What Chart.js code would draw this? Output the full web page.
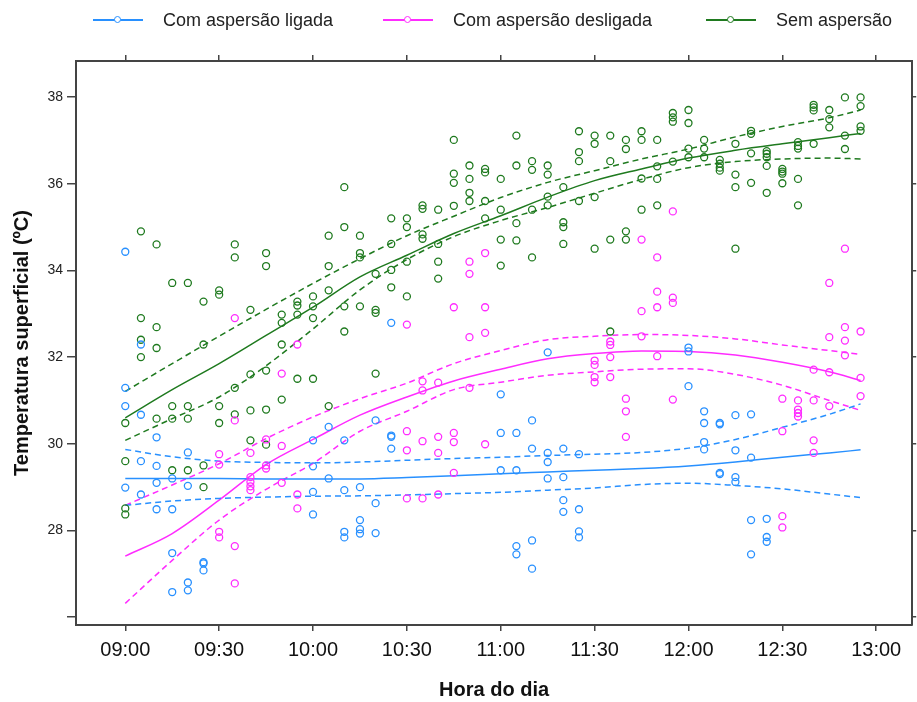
<!DOCTYPE html>
<html>
<head>
<meta charset="utf-8">
<script src="https://cdn.jsdelivr.net/npm/chart.js@4.4.1/dist/chart.umd.min.js"></script>
<style>
  html, body { margin: 0; padding: 0; background: #fff; }
  #wrap { position: relative; width: 917px; height: 702px; }
  #legend {
    position: absolute; left: 0; top: 8px; height: 24px; width: 917px;
    font-family: "Liberation Sans", Arial, sans-serif; font-size: 18px; color: #222;
  }
  .item { position: absolute; top: 0; display: flex; align-items: center; height: 24px; }
  .swatch { position: relative; width: 50px; height: 24px; margin-right: 20px; }
  .swatch .ln { position: absolute; left: 0; right: 0; top: 11px; height: 1.5px; }
  .swatch .pt { position: absolute; left: 21px; top: 8px; width: 5px; height: 5px; border-radius: 50%; border: 1.3px solid; background: #fff; }
</style>
</head>
<body>
<div id="wrap">
  <canvas id="chart" width="917" height="702"></canvas>
  <div id="legend"></div>
</div>
<script>
// colours (lattice superpose defaults)
const colLigada = '#2890ff';
const colDesligada = '#ff2cff';
const colSem = '#1f7a1f';

const seriesNames = ['Com aspersão ligada', 'Com aspersão desligada', 'Sem aspersão'];

// axis ticks
const xTicks = ['09:00', '09:30', '10:00', '10:30', '11:00', '11:30', '12:00', '12:30', '13:00'];
const yTicks = [26, 28, 30, 32, 34, 36, 38];

// observations: [hora, temperaturas]
const ligadaObs = [
  ['09:00', [34.43, 31.29, 30.87, 28.99]],
  ['09:05', [32.29, 30.67, 29.60, 28.83]],
  ['09:10', [30.15, 29.49, 29.10, 28.49]],
  ['09:15', [29.20, 28.49, 27.48, 26.58]],
  ['09:20', [29.80, 29.03, 26.80, 26.62]],
  ['09:25', [27.27, 27.24, 27.08]],
  ['10:00', [30.08, 29.48, 28.89, 28.37]],
  ['10:05', [30.39, 29.20]],
  ['10:10', [30.08, 28.93, 27.97, 27.84]],
  ['10:15', [29.00, 28.24, 28.03, 27.93]],
  ['10:20', [30.54, 28.63, 27.94]],
  ['10:25', [32.79, 30.19, 30.16, 29.89]],
  ['11:00', [31.14, 30.25, 29.39]],
  ['11:05', [30.25, 29.39, 27.64, 27.45]],
  ['11:10', [30.54, 29.89, 27.77, 27.12]],
  ['11:15', [32.11, 29.79, 29.58, 29.20]],
  ['11:20', [29.89, 29.23, 28.70, 28.43]],
  ['11:25', [29.76, 28.49, 27.98, 27.84]],
  ['12:00', [32.22, 32.13, 31.33]],
  ['12:05', [30.75, 30.48, 30.04, 29.87]],
  ['12:10', [30.48, 30.45, 29.33, 29.30]],
  ['12:15', [30.66, 29.85, 29.23, 29.12]],
  ['12:20', [30.68, 29.68, 28.24, 27.45]],
  ['12:25', [28.27, 27.85, 27.74]]
];

const desligadaObs = [
  ['09:30', [29.76, 29.52, 27.97, 27.84]],
  ['09:35', [32.90, 30.54, 27.64, 26.78]],
  ['09:40', [29.79, 29.23, 29.12, 29.02, 28.93]],
  ['09:45', [30.10, 29.50, 29.43]],
  ['09:50', [31.62, 29.95, 29.10]],
  ['09:55', [32.29, 28.83, 28.51]],
  ['10:30', [32.75, 30.29, 29.85, 28.74]],
  ['10:35', [31.44, 31.23, 30.06, 28.74]],
  ['10:40', [31.41, 30.16, 29.79, 28.83]],
  ['10:45', [33.15, 30.25, 30.04, 29.33]],
  ['10:50', [34.20, 33.92, 32.46, 31.29]],
  ['10:55', [34.40, 33.15, 32.56, 29.99]],
  ['11:30', [31.92, 31.82, 31.54, 31.42]],
  ['11:35', [32.36, 32.28, 32.00, 31.54]],
  ['11:40', [31.04, 30.75, 30.16]],
  ['11:45', [34.71, 33.06, 32.48]],
  ['11:50', [34.30, 33.51, 33.15, 32.02]],
  ['11:55', [35.36, 33.37, 33.25, 31.02]],
  ['12:30', [31.04, 30.29, 28.33, 28.07]],
  ['12:35', [31.00, 30.79, 30.71, 30.63]],
  ['12:40', [31.71, 31.00, 30.08, 29.79]],
  ['12:45', [33.71, 32.46, 31.65, 30.87]],
  ['12:50', [34.50, 32.69, 32.38, 32.04]],
  ['12:55', [32.59, 31.52, 31.10]]
];

const semObs = [
  ['09:00', [30.48, 29.60, 28.51, 28.37]],
  ['09:05', [34.90, 32.90, 32.40, 32.00]],
  ['09:10', [34.60, 32.69, 32.21, 30.58]],
  ['09:15', [33.71, 30.87, 30.58, 29.39]],
  ['09:20', [33.71, 30.87, 30.58, 29.39]],
  ['09:25', [33.28, 32.29, 29.50, 29.00]],
  ['09:30', [33.54, 33.44, 30.87, 30.48]],
  ['09:35', [34.60, 34.30, 31.29, 30.68]],
  ['09:40', [33.09, 31.60, 30.77, 30.08]],
  ['09:45', [34.40, 34.10, 31.69, 30.79, 29.98]],
  ['09:50', [32.98, 32.79, 32.29, 31.02]],
  ['09:55', [33.28, 33.19, 32.98, 31.50]],
  ['10:00', [33.40, 33.17, 32.90, 31.50]],
  ['10:05', [34.80, 34.10, 33.54, 30.87]],
  ['10:10', [35.92, 35.00, 33.17, 32.59]],
  ['10:15', [34.80, 34.40, 34.30, 33.17]],
  ['10:20', [33.92, 33.09, 33.02, 31.62]],
  ['10:25', [35.20, 34.61, 34.01, 33.61]],
  ['10:30', [35.20, 35.00, 34.20, 33.40]],
  ['10:35', [35.50, 35.42, 34.83, 34.73]],
  ['10:40', [35.40, 34.61, 34.20, 33.81]],
  ['10:45', [37.01, 36.23, 36.02, 35.49]],
  ['10:50', [36.42, 36.11, 35.79, 35.60]],
  ['10:55', [36.34, 36.26, 35.60, 35.20]],
  ['11:00', [36.11, 35.40, 34.71, 34.11]],
  ['11:05', [37.11, 36.42, 35.09, 34.69]],
  ['11:10', [36.52, 36.32, 35.40, 34.30]],
  ['11:15', [36.42, 36.21, 35.70, 35.50]],
  ['11:20', [35.92, 35.11, 35.00, 34.61]],
  ['11:25', [37.21, 36.73, 36.52, 35.60]],
  ['11:30', [37.11, 36.92, 35.69, 34.50]],
  ['11:35', [37.11, 36.52, 34.71, 32.59]],
  ['11:40', [37.01, 36.80, 34.90, 34.71]],
  ['11:45', [37.21, 37.01, 36.12, 35.40]],
  ['11:50', [37.01, 36.40, 36.11, 35.50]],
  ['11:55', [37.63, 37.53, 37.43, 36.51]],
  ['12:00', [37.70, 37.40, 36.81, 36.61]],
  ['12:05', [37.01, 36.81, 36.61]],
  ['12:10', [36.55, 36.46, 36.37, 36.30]],
  ['12:15', [36.92, 36.21, 35.92, 34.50]],
  ['12:20', [37.22, 37.15, 36.70, 36.02]],
  ['12:25', [36.75, 36.69, 36.61, 36.41, 35.79]],
  ['12:30', [36.34, 36.28, 36.23, 36.01]],
  ['12:35', [36.96, 36.87, 36.81, 36.11, 35.50]],
  ['12:40', [37.82, 37.76, 37.69, 36.92]],
  ['12:45', [37.70, 37.49, 37.30]],
  ['12:50', [37.99, 37.11, 36.80]],
  ['12:55', [37.99, 37.79, 37.32, 37.22]]
];

// smoothed fits (minutes after 09:00) and their confidence bands
const fitMinutes = [0, 15, 30, 45, 60, 75, 90, 105, 120, 135, 150, 165, 180, 195, 210, 225, 235];
const ligadaFit   = [29.20, 29.20, 29.20, 29.19, 29.19, 29.19, 29.22, 29.26, 29.31, 29.35, 29.39, 29.43, 29.49, 29.58, 29.69, 29.79, 29.86];
const ligadaUpper = [29.87, 29.70, 29.60, 29.57, 29.56, 29.58, 29.62, 29.66, 29.69, 29.73, 29.76, 29.80, 29.90, 30.10, 30.38, 30.68, 30.92];
const ligadaLower = [28.58, 28.68, 28.74, 28.77, 28.79, 28.80, 28.82, 28.85, 28.88, 28.93, 28.98, 29.06, 29.09, 29.04, 28.96, 28.84, 28.76];
const desligadaFit   = [27.41, 27.93, 28.70, 29.52, 30.10, 30.66, 31.08, 31.45, 31.72, 31.96, 32.08, 32.14, 32.13, 32.05, 31.88, 31.66, 31.46];
const desligadaUpper = [28.58, 29.05, 29.54, 30.12, 30.62, 31.04, 31.40, 31.85, 32.15, 32.40, 32.48, 32.52, 32.50, 32.42, 32.28, 32.15, 32.06];
const desligadaLower = [26.32, 27.31, 28.24, 28.95, 29.55, 30.29, 30.75, 31.25, 31.42, 31.58, 31.66, 31.72, 31.73, 31.60, 31.35, 31.00, 30.77];
const semFit   = [30.60, 31.25, 31.85, 32.50, 33.15, 33.85, 34.35, 34.85, 35.26, 35.69, 36.07, 36.34, 36.59, 36.77, 36.92, 37.06, 37.16];
const semUpper = [31.21, 31.85, 32.48, 33.10, 33.70, 34.27, 34.80, 35.25, 35.68, 36.03, 36.30, 36.57, 36.80, 37.08, 37.32, 37.52, 37.70];
const semLower = [30.08, 30.58, 31.08, 31.80, 32.65, 33.55, 34.25, 34.78, 35.15, 35.45, 35.78, 36.10, 36.37, 36.51, 36.57, 36.59, 36.57];

const toMin = t => { const [h, m] = t.split(':').map(Number); return (h - 9) * 60 + m; };
const toLabel = v => { const h = 9 + Math.floor(v / 60), m = v % 60; return String(h).padStart(2, '0') + ':' + String(m).padStart(2, '0'); };
const toPoints = obs => obs.flatMap(([t, vals]) => vals.map(v => ({ x: toMin(t), y: v })));
const toCurve = vals => vals.map((v, i) => ({ x: fitMinutes[i], y: v }));

function scatterSet(obs, color) {
  return {
    type: 'scatter', data: toPoints(obs), showLine: false,
    pointStyle: 'circle', pointRadius: 3.5, pointBorderWidth: 1.3,
    borderColor: color, backgroundColor: 'rgba(0,0,0,0)', pointHoverRadius: 3.5
  };
}
function lineSet(vals, color, dashed) {
  return {
    type: 'line', data: toCurve(vals), borderColor: color, borderWidth: 1.5,
    borderDash: dashed ? [6, 4] : [], pointRadius: 0, fill: false,
    cubicInterpolationMode: 'monotone'
  };
}

const frame = '#444';
const tickFont = { family: '"Liberation Sans", Arial, sans-serif', size: 20 };
const titleFont = { family: '"Liberation Sans", Arial, sans-serif', size: 20, weight: 'bold' };
const gridOpts = len => ({ drawOnChartArea: false, drawTicks: true, tickLength: len, color: frame, lineWidth: 1.5 });
const borderOpts = { display: true, color: frame, width: 2 };

const xMin = -15.75, xMax = 251.5, yMin = 25.82, yMax = 38.83;
const setXTicks = s => { s.ticks = xTicks.map(t => ({ value: toMin(t) })); };
const setYTicks = s => { s.ticks = yTicks.map(v => ({ value: v })); };

new Chart(document.getElementById('chart'), {
  type: 'scatter',
  data: {
    datasets: [
      scatterSet(ligadaObs, colLigada),
      scatterSet(desligadaObs, colDesligada),
      scatterSet(semObs, colSem),
      lineSet(ligadaFit, colLigada, false),
      lineSet(ligadaUpper, colLigada, true),
      lineSet(ligadaLower, colLigada, true),
      lineSet(desligadaFit, colDesligada, false),
      lineSet(desligadaUpper, colDesligada, true),
      lineSet(desligadaLower, colDesligada, true),
      lineSet(semFit, colSem, false),
      lineSet(semUpper, colSem, true),
      lineSet(semLower, colSem, true)
    ]
  },
  options: {
    responsive: false,
    animation: false,
    devicePixelRatio: 1,
    layout: { padding: 0 },
    plugins: { legend: { display: false }, tooltip: { enabled: false } },
    scales: {
      x: {
        type: 'linear', position: 'bottom', min: xMin, max: xMax,
        afterBuildTicks: setXTicks,
        afterFit: s => { s.height = 77; },
        grid: gridOpts(6), border: borderOpts,
        ticks: { font: tickFont, color: '#111', padding: 7, maxRotation: 0, autoSkip: false, callback: v => toLabel(v) },
        title: { display: true, text: 'Hora do dia', font: titleFont, color: '#111', padding: { top: 0, bottom: 0 } }
      },
      x2: {
        type: 'linear', position: 'top', min: xMin, max: xMax,
        afterBuildTicks: setXTicks,
        afterFit: s => { s.height = 61; },
        grid: gridOpts(6), border: borderOpts,
        ticks: { display: false }
      },
      y: {
        type: 'linear', position: 'left', min: yMin, max: yMax,
        afterBuildTicks: setYTicks,
        afterFit: s => { s.width = 76; },
        grid: gridOpts(9), border: borderOpts,
        ticks: { font: { family: '"Liberation Sans", Arial, sans-serif', size: 14 }, color: '#222', padding: 4, callback: v => (v === 26 ? '' : v) },
        title: { display: true, text: 'Temperatura superficial (ºC)', font: titleFont, color: '#111', padding: { top: 10, bottom: 0 } }
      },
      y2: {
        type: 'linear', position: 'right', min: yMin, max: yMax,
        afterBuildTicks: setYTicks,
        afterFit: s => { s.width = 4; },
        grid: gridOpts(4), border: borderOpts,
        ticks: { display: false }
      }
    }
  }
});

// legend in lattice style: line with an open circle in the middle
const legendPos = [93, 383, 706];
const legendCols = [colLigada, colDesligada, colSem];
const legend = document.getElementById('legend');
seriesNames.forEach((name, i) => {
  const item = document.createElement('div');
  item.className = 'item';
  item.style.left = legendPos[i] + 'px';
  item.innerHTML = '<span class="swatch"><span class="ln" style="background:' + legendCols[i] + '"></span>' +
    '<span class="pt" style="border-color:' + legendCols[i] + '"></span></span><span>' + name + '</span>';
  legend.appendChild(item);
});
</script>
</body>
</html>
